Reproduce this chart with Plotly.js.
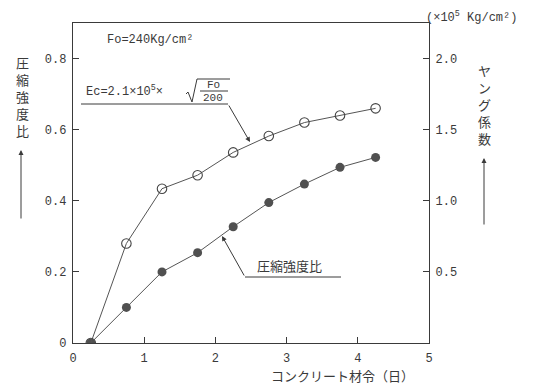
<!DOCTYPE html>
<html>
<head>
<meta charset="utf-8">
<script src="https://cdn.plot.ly/plotly-3.0.1.min.js"></script>
<style>html,body{margin:0;padding:0;background:#fff;}#chart{width:537px;height:385px;}</style>
</head>
<body>
<div id="chart"></div>
<script>
// Data
const concreteAge = [0.25, 0.75, 1.25, 1.75, 2.25, 2.75, 3.25, 3.75, 4.25];
const strengthRatio = [0, 0.10, 0.20, 0.254, 0.327, 0.395, 0.447, 0.494, 0.522];
const youngsModulus = [0, 0.70, 1.085, 1.18, 1.34, 1.455, 1.55, 1.60, 1.65]; // ×10^5 Kg/cm²
const xTicks = [0, 1, 2, 3, 4, 5];
const yTicks = [0, 0.2, 0.4, 0.6, 0.8];
const yTickText = ['0', '0.2', '0.4', '0.6', '0.8'];
const y2Ticks = [0.5, 1.0, 1.5, 2.0];
const y2TickText = ['0.5', '1.0', '1.5', '2.0'];

const W = 537, H = 385, L = 73, R = 108, T = 23, B = 42;
const pw = W - L - R, ph = H - T - B;
const px = v => (v - L) / pw;
const py = v => (H - B - v) / ph;

const ink = '#3a3a3a';
const mono = 'Liberation Mono, DejaVu Sans Mono, monospace';
const cjk = 'Noto Sans CJK JP, sans-serif';

const traces = [
  {x: concreteAge, y: youngsModulus, yaxis: 'y2', mode: 'lines+markers', type: 'scatter',
   line: {color: '#555', width: 1},
   marker: {symbol: 'circle-open', size: 9.5, color: '#444', line: {width: 1.1, color: '#444'}}},
  {x: concreteAge, y: strengthRatio, mode: 'lines+markers', type: 'scatter',
   line: {color: '#555', width: 1},
   marker: {symbol: 'circle', size: 9, color: '#505050'}}
];

function ann(text, x, y, opts) {
  return Object.assign({text: text, xref: 'paper', yref: 'paper', x: px(x), y: py(y),
    xanchor: 'center', yanchor: 'middle',
    showarrow: false, font: {family: mono, size: 12, color: ink}}, opts || {});
}
function arrow(hx, hy, tx, ty) {
  return {text: '', xref: 'paper', yref: 'paper', x: px(hx), y: py(hy),
    xanchor: 'center', yanchor: 'middle',
    ax: tx - hx, ay: ty - hy, showarrow: true, arrowhead: 2, arrowsize: 1, arrowwidth: 1, arrowcolor: ink};
}
function seg(x0, y0, x1, y1) {
  return {type: 'line', xref: 'paper', yref: 'paper', x0: px(x0), y0: py(y0), x1: px(x1), y1: py(y1),
    line: {color: ink, width: 1}};
}

const annotations = [
  ann('Fo=240Kg/cm²', 105, 40, {xanchor: 'left'}),
  ann('Ec=2.1×10<sup>5</sup>×', 84, 91, {xanchor: 'left'}),
  ann('Fo', 213, 85, {font: {family: mono, size: 11, color: ink}}),
  ann('200', 213, 98, {font: {family: mono, size: 11, color: ink}}),
  arrow(250, 142, 228, 104),
  ann('圧縮強度比', 255, 265, {xanchor: 'left', font: {family: cjk, size: 13, color: ink}}),
  arrow(222, 236, 245, 277),
  ann('(×10<sup>5</sup> Kg/cm²)', 471, 17, {}),
  ann('圧<br>縮<br>強<br>度<br>比', 22, 97, {font: {family: cjk, size: 13, color: ink}}),
  arrow(21, 150, 21, 220),
  ann('ヤ<br>ン<br>グ<br>係<br>数', 484, 104, {font: {family: cjk, size: 13, color: ink}}),
  arrow(484, 158, 484, 226),
  ann('コンクリート材令（日）', 342, 375, {font: {family: cjk, size: 13, color: ink}})
];

const shapes = [
  seg(81, 104, 228, 104),
  seg(200, 91, 228, 91),
  {type: 'path', xref: 'paper', yref: 'paper',
   path: `M ${px(186)} ${py(94)} L ${px(188)} ${py(92)} L ${px(192)} ${py(102)} L ${px(197)} ${py(79)} L ${px(230)} ${py(79)}`,
   line: {color: ink, width: 1}},
  seg(245, 277, 341, 277)
];

const axisCommon = {showgrid: false, zeroline: false, showline: true, linecolor: ink, linewidth: 1.2,
  ticks: 'inside', ticklen: 6, tickcolor: ink, tickfont: {family: mono, size: 12, color: ink}, fixedrange: true};

const layout = {
  width: W, height: H,
  margin: {l: L, r: R, t: T, b: B, pad: 0},
  paper_bgcolor: '#fff', plot_bgcolor: '#fff',
  showlegend: false,
  xaxis: Object.assign({}, axisCommon, {range: [0, 5], tickvals: xTicks, mirror: true, ticklabelstandoff: 3}),
  yaxis: Object.assign({}, axisCommon, {range: [0, 0.9], tickvals: yTicks, ticktext: yTickText, ticklabelstandoff: 3}),
  yaxis2: Object.assign({}, axisCommon, {range: [0, 2.25], tickvals: y2Ticks, ticktext: y2TickText,
    overlaying: 'y', side: 'right', ticklabelstandoff: 3}),
  annotations: annotations,
  shapes: shapes
};

Plotly.newPlot('chart', traces, layout, {displayModeBar: false, staticPlot: true});
</script>
</body>
</html>
